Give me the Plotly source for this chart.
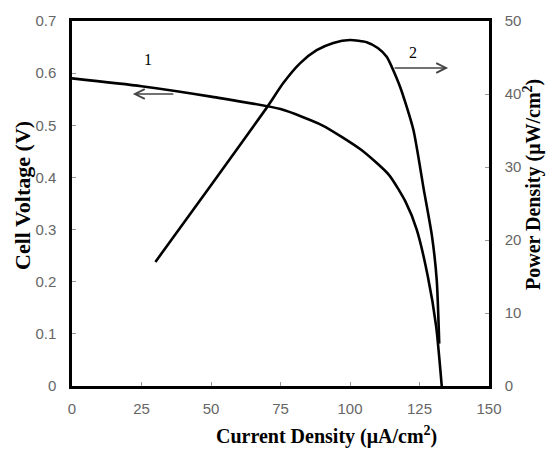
import plotly.graph_objects as go

# Curve 1: cell voltage vs current density
current_v = [0, 25, 50, 75, 90, 104, 114, 120, 124, 128, 131, 133]
voltage = [0.59, 0.575, 0.555, 0.531, 0.50, 0.453, 0.405, 0.353, 0.30, 0.21, 0.114, 0.0]

# Curve 2: power density vs current density
current_p = [30, 50, 70, 76, 82, 88, 94, 100, 106, 110, 113.2, 118, 122.8, 126.5, 129.5, 131.2, 132.1]
power = [17, 27.5, 38.1, 41.5, 44.2, 46.0, 47.0, 47.4, 47.1, 46.3, 45.1, 41, 35.1, 27, 20.5, 14.5, 5.8]

x_ticks = [0, 25, 50, 75, 100, 125, 150]
y_ticks = [0, 0.1, 0.2, 0.3, 0.4, 0.5, 0.6, 0.7]
y2_ticks = [0, 10, 20, 30, 40, 50]

tick_font = dict(family="Liberation Sans", size=15, color="#666666")
label_font = dict(family="Liberation Serif", size=16, color="black")

fig = go.Figure()
fig.add_trace(go.Scatter(x=current_v, y=voltage, mode="lines",
                         line=dict(color="black", width=2.6, shape="spline", smoothing=0.6),
                         yaxis="y", showlegend=False))
fig.add_trace(go.Scatter(x=current_p, y=power, mode="lines",
                         line=dict(color="black", width=2.6, shape="spline", smoothing=0.6),
                         yaxis="y2", showlegend=False))

fig.update_layout(
    width=547, height=455,
    margin=dict(l=72, r=58, t=21, b=69),
    paper_bgcolor="white", plot_bgcolor="white",
    xaxis=dict(range=[0, 150], tickvals=x_ticks, ticktext=[str(v) for v in x_ticks],
               showline=True, linecolor="black", linewidth=2.5, mirror=True,
               ticks="inside", ticklen=4, tickcolor="#999", showgrid=False, zeroline=False,
               tickfont=tick_font, ticklabelstandoff=7),
    yaxis=dict(range=[0, 0.7], tickvals=y_ticks, ticktext=["0" if v == 0 else f"{v:.1f}" for v in y_ticks],
               showline=True, linecolor="black", linewidth=2.5,
               ticks="inside", ticklen=4, tickcolor="#999", showgrid=False, zeroline=False,
               tickfont=tick_font, ticklabelstandoff=10),
    yaxis2=dict(range=[0, 50], tickvals=y2_ticks, overlaying="y", side="right",
                showline=True, linecolor="black", linewidth=2.5,
                ticks="inside", ticklen=4, tickcolor="#999", showgrid=False, zeroline=False,
                tickfont=tick_font, ticklabelstandoff=10),
)

# plot-area corners in pixels, used to place the axis titles
plot_l, plot_r, plot_t, plot_b = 72, 489, 21, 386

annotations = [
    dict(x=27.3, y=0.627, xref="x", yref="y", text="1", showarrow=False, font=label_font),
    dict(x=122.7, y=0.639, xref="x", yref="y", text="2", showarrow=False, font=label_font),
    dict(x=21.9, y=0.56, xref="x", yref="y", ax=37, ay=0.56, axref="x", ayref="y",
         text="", showarrow=True, arrowhead=5, arrowsize=1.2, arrowwidth=1.6, arrowcolor="#444"),
    dict(x=135.3, y=0.61, xref="x", yref="y", ax=115.5, ay=0.61, axref="x", ayref="y",
         text="", showarrow=True, arrowhead=5, arrowsize=1.2, arrowwidth=1.6, arrowcolor="#444"),
    dict(x=0, y=0, xref="paper", yref="paper", xshift=326 - plot_l, yshift=-(435 - plot_b),
         text="<b>Current Density (μA/cm<sup>2</sup>)</b>", showarrow=False,
         font=dict(family="Liberation Serif", size=20, color="black"),
         xanchor="center", yanchor="middle"),
    dict(x=0, y=0, xref="paper", yref="paper", xshift=22 - plot_l, yshift=plot_b - 196,
         text="<b>Cell Voltage (V)</b>", showarrow=False,
         font=dict(family="Liberation Serif", size=22, color="black"), textangle=-90,
         xanchor="center", yanchor="middle"),
    dict(x=0, y=0, xref="paper", yref="paper", xshift=532 - plot_l, yshift=plot_b - 185,
         text="<b>Power Density (μW/cm<sup>2</sup>)</b>", showarrow=False,
         font=dict(family="Liberation Serif", size=20, color="black"), textangle=-90,
         xanchor="center", yanchor="middle"),
]
fig.update_layout(annotations=annotations)

fig.write_html("out.html")
